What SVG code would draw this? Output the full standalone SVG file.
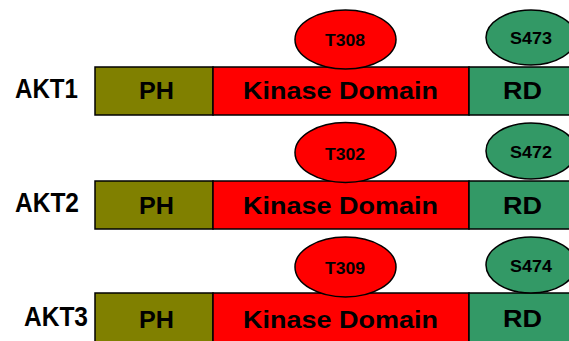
<svg xmlns="http://www.w3.org/2000/svg" width="569" height="341" viewBox="0 0 569 341">
  <style>
    .ph { fill: #808000; stroke: #000; stroke-width: 1.5; }
    .kd { fill: #FF0000; stroke: #000; stroke-width: 1.5; }
    .rd { fill: #339966; stroke: #000; stroke-width: 1.5; }
    text { font-family: "Liberation Sans", Arial, sans-serif; font-weight: bold; fill: #000; text-anchor: middle; }
    .iso { font-size: 27px; }
    .dom { font-size: 24px; }
    .site { font-size: 17px; }
  </style>
  <rect width="569" height="341" fill="#fff"/>

  <!-- AKT1 -->
  <g id="akt1">
    <text class="iso" x="46.5" y="98" textLength="63" lengthAdjust="spacingAndGlyphs">AKT1</text>
    <rect class="ph" x="95" y="67" width="118" height="48"/>
    <rect class="kd" x="213" y="67" width="256" height="48"/>
    <rect class="rd" x="469" y="67" width="110" height="48"/>
    <text class="dom" x="156.5" y="99" textLength="35" lengthAdjust="spacingAndGlyphs">PH</text>
    <text class="dom" x="340.5" y="99" textLength="195" lengthAdjust="spacingAndGlyphs">Kinase Domain</text>
    <text class="dom" x="522.5" y="99" textLength="39" lengthAdjust="spacingAndGlyphs">RD</text>
  </g>
  <g id="t308">
    <ellipse class="kd" cx="345.5" cy="39.5" rx="50.5" ry="29.5"/>
    <text class="site" x="345" y="45.7" textLength="40" lengthAdjust="spacingAndGlyphs">T308</text>
  </g>
  <g id="s473">
    <ellipse class="rd" cx="531" cy="37.5" rx="45" ry="27.5"/>
    <text class="site" x="531" y="44.3" textLength="42" lengthAdjust="spacingAndGlyphs">S473</text>
  </g>

  <!-- AKT2 -->
  <g id="akt2">
    <text class="iso" x="47" y="212" textLength="64" lengthAdjust="spacingAndGlyphs">AKT2</text>
    <rect class="ph" x="95" y="181" width="118" height="48"/>
    <rect class="kd" x="213" y="181" width="256" height="48"/>
    <rect class="rd" x="469" y="181" width="110" height="48"/>
    <text class="dom" x="156.5" y="214" textLength="35" lengthAdjust="spacingAndGlyphs">PH</text>
    <text class="dom" x="340.5" y="214" textLength="195" lengthAdjust="spacingAndGlyphs">Kinase Domain</text>
    <text class="dom" x="522.5" y="214" textLength="39" lengthAdjust="spacingAndGlyphs">RD</text>
  </g>
  <g id="t302">
    <ellipse class="kd" cx="345.5" cy="152.5" rx="50.5" ry="30"/>
    <text class="site" x="345" y="160" textLength="40" lengthAdjust="spacingAndGlyphs">T302</text>
  </g>
  <g id="s472">
    <ellipse class="rd" cx="531" cy="151" rx="45" ry="28"/>
    <text class="site" x="531" y="158.3" textLength="42" lengthAdjust="spacingAndGlyphs">S472</text>
  </g>

  <!-- AKT3 -->
  <g id="akt3">
    <text class="iso" x="56" y="326" textLength="64" lengthAdjust="spacingAndGlyphs">AKT3</text>
    <rect class="ph" x="95" y="293" width="118" height="60"/>
    <rect class="kd" x="213" y="293" width="256" height="60"/>
    <rect class="rd" x="469" y="293" width="110" height="60"/>
    <text class="dom" x="156.5" y="327.5" textLength="35" lengthAdjust="spacingAndGlyphs">PH</text>
    <text class="dom" x="340.5" y="327.5" textLength="195" lengthAdjust="spacingAndGlyphs">Kinase Domain</text>
    <text class="dom" x="522.5" y="326.5" textLength="39" lengthAdjust="spacingAndGlyphs">RD</text>
  </g>
  <g id="t309">
    <ellipse class="kd" cx="345.5" cy="267" rx="50.5" ry="30"/>
    <text class="site" x="345" y="274" textLength="40" lengthAdjust="spacingAndGlyphs">T309</text>
  </g>
  <g id="s474">
    <ellipse class="rd" cx="531" cy="265" rx="45" ry="28"/>
    <text class="site" x="531" y="271.7" textLength="42" lengthAdjust="spacingAndGlyphs">S474</text>
  </g>
</svg>
